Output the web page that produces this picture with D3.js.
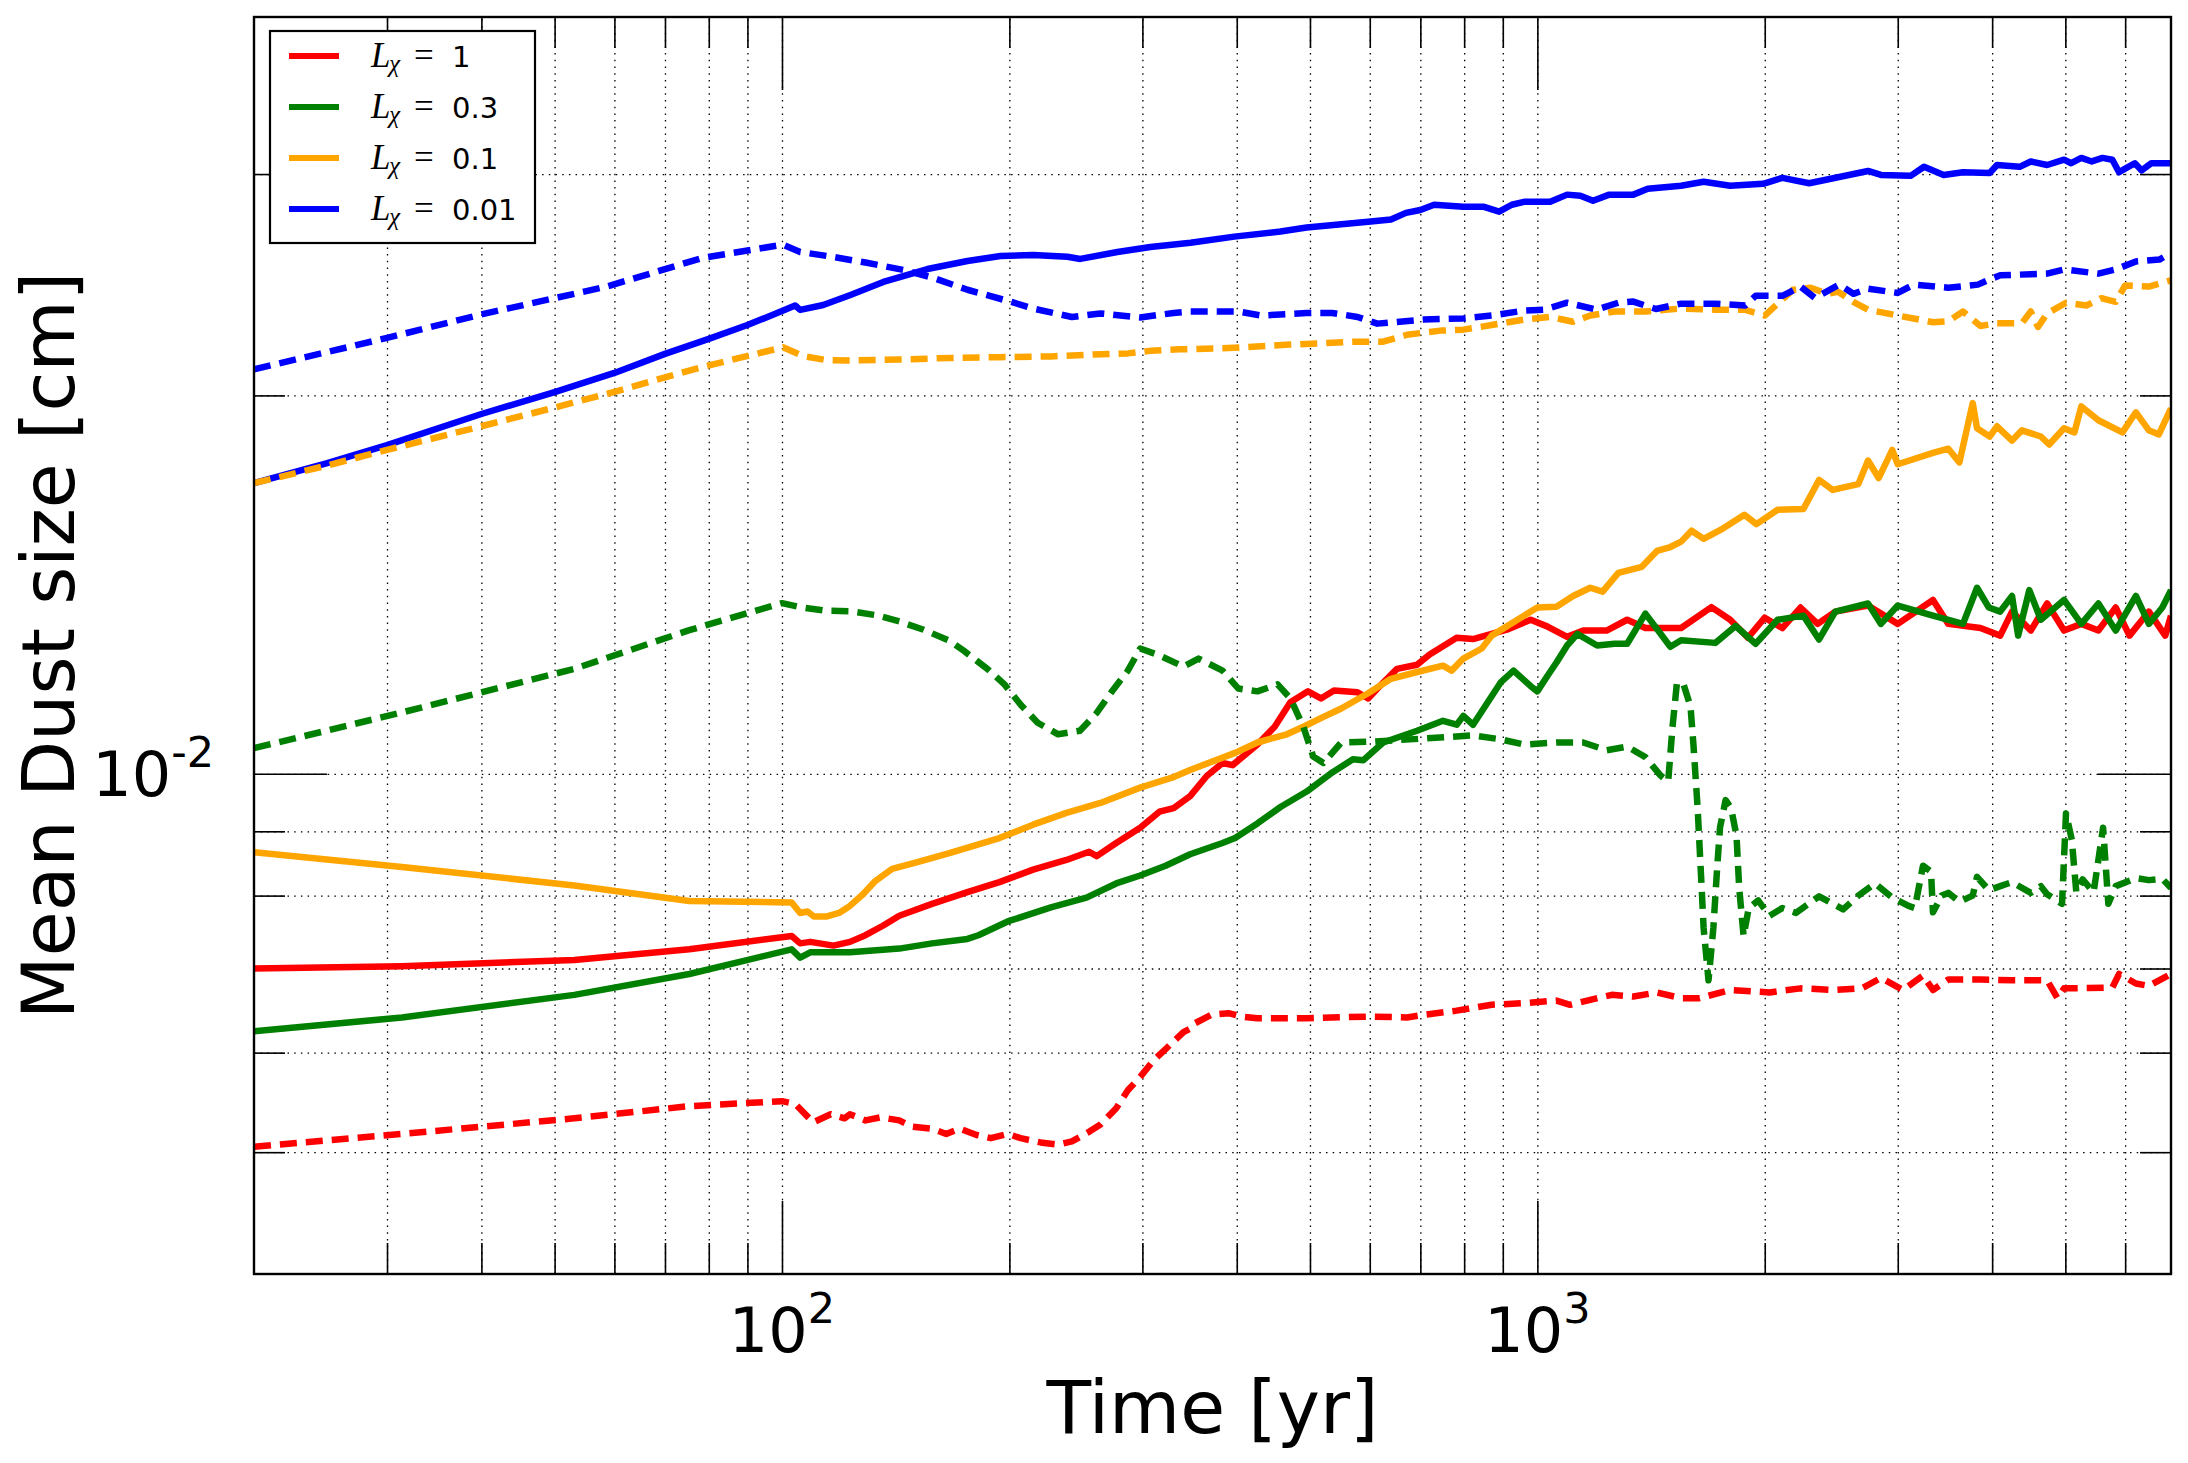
<!DOCTYPE html>
<meta charset="utf-8">

<head>
    <title>Mean dust size</title>
</head>

<style>
    body { margin: 0; background: #fff; }
    text { font-family: "DejaVu Sans", sans-serif; fill: #000; }
    .grid line { stroke: #000; stroke-width: 1.3; stroke-dasharray: 1.5, 5.2; }
    .grid path, .ticks path { display: none; }
    .ticks line { stroke: #000; stroke-width: 1.6; }
    .series { fill: none; stroke-width: 6.5; stroke-linejoin: round; }
    .dashed { stroke-dasharray: 17, 9; }
</style>

<body>
    <svg width="2188" height="1463"></svg>

    <script src="https://cdnjs.cloudflare.com/ajax/libs/d3/7.8.5/d3.min.js"></script>
    <script>
        var width = 2188, height = 1463
        // plot box (window.top is reserved, so no plain "top")
        var pLeft = 254, pRight = 2171, pTop = 17, pBottom = 1274

        // [time in yr, mean dust size in cm]
        var redSolid = [[20,0.00700],[31.4,0.00703],[53.1,0.00711],[75.4,0.00725],[103,0.00743],[105.7,0.00733],[109,0.00735],[117,0.00730],[123,0.00735],[129,0.00744],[136,0.00757],[143,0.00771],[158,0.00788],[176,0.00805],[194,0.00820],[215,0.00839],[238,0.00854],[255,0.00867],[261,0.00860],[277,0.00881],[298,0.00906],[316,0.00933],[330,0.00939],[347,0.00960],[365,0.00996],[383,0.01020],[395,0.01016],[426,0.01055],[449,0.01090],[471,0.01140],[497,0.01163],[517,0.01148],[538,0.01165],[578,0.01161],[597,0.01148],[620,0.01176],[652,0.01212],[693,0.01221],[720,0.01244],[750,0.01263],[782,0.01283],[822,0.01280],[911,0.01302],[980,0.01326],[1030,0.01310],[1095,0.01285],[1150,0.01300],[1235,0.01300],[1315,0.01326],[1390,0.01306],[1550,0.01306],[1700,0.01357],[1800,0.01326],[1900,0.01283],[2000,0.01331],[2110,0.01306],[2230,0.01356],[2350,0.01316],[2480,0.01346],[2740,0.01361],[3000,0.01316],[3340,0.01375],[3500,0.01316],[3860,0.01306],[4100,0.01288],[4250,0.01346],[4500,0.01300],[4730,0.01366],[4980,0.01300],[5250,0.01316],[5530,0.01300],[5830,0.01356],[6080,0.01288],[6450,0.01346],[6780,0.01288],[6900,0.01336]]

        var greenSolid = [[20,0.00624],[31.4,0.00640],[53.1,0.00667],[75.4,0.00693],[103,0.00725],[105.7,0.00714],[109,0.00721],[123,0.00721],[143,0.00726],[158,0.00733],[176,0.00739],[182,0.00744],[199,0.00763],[227,0.00783],[253,0.00797],[277,0.00818],[298,0.00830],[322,0.00845],[347,0.00863],[383,0.00881],[398,0.00889],[426,0.00913],[457,0.00941],[495,0.00968],[532,0.01000],[570,0.01027],[588,0.01025],[625,0.01059],[693,0.01082],[750,0.01102],[782,0.01094],[798,0.01112],[822,0.01094],[895,0.01183],[930,0.01208],[980,0.01174],[1000,0.01163],[1030,0.01195],[1060,0.01226],[1095,0.01265],[1130,0.01292],[1200,0.01265],[1265,0.01269],[1315,0.01269],[1390,0.01341],[1500,0.01262],[1550,0.01277],[1720,0.01271],[1830,0.01311],[1945,0.01269],[2080,0.01326],[2250,0.01336],[2360,0.01279],[2480,0.01346],[2740,0.01366],[2850,0.01316],[3000,0.01361],[3340,0.01336],[3660,0.01316],[3820,0.01406],[3960,0.01356],[4100,0.01346],[4250,0.01385],[4330,0.01288],[4480,0.01400],[4640,0.01326],[4980,0.01375],[5250,0.01316],[5530,0.01366],[5830,0.01300],[6200,0.01385],[6450,0.01316],[6720,0.01356],[6900,0.01400]]

        var orangeSolid = [[20,0.00866],[31.4,0.00843],[53.1,0.00815],[75.4,0.00792],[103,0.00790],[105.7,0.00775],[108.1,0.00777],[110.2,0.00770],[114.7,0.00770],[119,0.00775],[123,0.00785],[128,0.00802],[133,0.00822],[139.9,0.00840],[151.5,0.00851],[167,0.00865],[194,0.00889],[215,0.00911],[238,0.00931],[264,0.00948],[298,0.00975],[330,0.00994],[347,0.01007],[398,0.01039],[426,0.01059],[466,0.01075],[490,0.01090],[521,0.01110],[550,0.01127],[597,0.01159],[640,0.01190],[693,0.01205],[750,0.01219],[770,0.01208],[798,0.01235],[844,0.01258],[870,0.01288],[960,0.01336],[1000,0.01356],[1060,0.01358],[1115,0.01385],[1175,0.01406],[1220,0.01396],[1280,0.01445],[1375,0.01461],[1440,0.01504],[1500,0.01515],[1550,0.01530],[1600,0.01561],[1660,0.01538],[1760,0.01567],[1880,0.01607],[1950,0.01580],[2080,0.01622],[2250,0.01624],[2360,0.01713],[2460,0.01682],[2660,0.01700],[2740,0.01775],[2830,0.01719],[2950,0.01810],[3000,0.01763],[3340,0.01800],[3500,0.01814],[3620,0.01769],[3770,0.01972],[3820,0.01883],[3970,0.01855],[4060,0.01890],[4250,0.01841],[4380,0.01876],[4640,0.01855],[4760,0.01828],[4980,0.01883],[5140,0.01869],[5250,0.01960],[5530,0.01911],[5950,0.01869],[6200,0.01939],[6450,0.01876],[6650,0.01862],[6900,0.01953]]

        var blueSolid = [[20,0.01703],[25,0.01767],[30,0.01826],[40,0.01933],[50,0.02012],[60,0.02084],[70,0.02158],[80,0.02218],[90,0.02275],[100,0.02334],[104.1,0.02358],[105.7,0.02339],[113.4,0.02360],[123.2,0.02404],[136.2,0.02462],[155.8,0.02521],[176,0.02558],[194.6,0.02582],[215.2,0.02587],[238.7,0.02578],[248.3,0.02568],[278,0.02601],[307.4,0.02625],[347.4,0.02645],[397,0.02675],[457,0.02700],[495,0.02720],[597,0.02749],[640,0.02760],[670,0.02794],[700,0.02809],[730,0.02836],[798,0.02825],[850,0.02825],[890,0.02800],[925,0.02836],[960,0.02851],[1040,0.02851],[1095,0.02889],[1140,0.02883],[1185,0.02857],[1245,0.02889],[1340,0.02889],[1400,0.02920],[1550,0.02936],[1660,0.02958],[1800,0.02936],[1990,0.02947],[2110,0.02979],[2290,0.02950],[2510,0.02984],[2740,0.03017],[2850,0.02995],[3120,0.02990],[3250,0.03040],[3450,0.02995],[3660,0.03010],[3970,0.03006],[4060,0.03050],[4350,0.03040],[4500,0.03070],[4730,0.03050],[4980,0.03080],[5090,0.03060],[5250,0.03090],[5420,0.03070],[5600,0.03090],[5770,0.03080],[5890,0.03010],[6000,0.03030],[6180,0.03060],[6310,0.03020],[6500,0.03060],[6900,0.03060]]

        var redDashed = [[20,0.00505],[31.4,0.00517],[53.1,0.00532],[75.4,0.00544],[100,0.00549],[104.2,0.00546],[110,0.00528],[116,0.00536],[121,0.00532],[123,0.00536],[129,0.00530],[135,0.00533],[143,0.00530],[148.6,0.00524],[158,0.00522],[165,0.00517],[172,0.00522],[181,0.00516],[189,0.00513],[199,0.00517],[207,0.00513],[220,0.00509],[232,0.00507],[242,0.00510],[255,0.00519],[264,0.00526],[277,0.00542],[287,0.00560],[298,0.00574],[310,0.00591],[322,0.00604],[340,0.00623],[347,0.00627],[350,0.00632],[370,0.00643],[390,0.00645],[406,0.00641],[426,0.00639],[495,0.00639],[597,0.00641],[672,0.00640],[707,0.00643],[782,0.00648],[870,0.00655],[960,0.00657],[1060,0.00660],[1105,0.00655],[1175,0.00661],[1255,0.00667],[1340,0.00665],[1440,0.00670],[1550,0.00663],[1640,0.00663],[1800,0.00673],[2030,0.00670],[2230,0.00675],[2480,0.00673],[2690,0.00675],[2850,0.00688],[3050,0.00673],[3240,0.00691],[3340,0.00673],[3500,0.00686],[3860,0.00686],[4250,0.00685],[4730,0.00685],[4880,0.00663],[4980,0.00675],[5770,0.00676],[5890,0.00693],[6200,0.00681],[6450,0.00678],[6900,0.00693]]

        var greenDashed = [[20,0.01048],[31.4,0.01119],[53.1,0.01212],[75.4,0.01301],[100,0.01367],[105.7,0.01357],[114.3,0.01348],[123,0.01347],[133.5,0.01337],[143,0.01322],[154,0.01302],[167,0.01275],[174,0.01253],[187,0.01212],[197,0.01178],[207,0.01135],[218,0.01098],[232,0.01075],[248,0.01082],[261,0.01118],[274,0.01165],[287,0.01208],[298,0.01258],[314,0.01244],[340,0.01217],[356,0.01235],[383,0.01208],[402,0.01169],[426,0.01163],[453,0.01178],[471,0.01148],[490,0.01090],[505,0.01032],[521,0.01020],[550,0.01059],[608,0.01061],[713,0.01067],[822,0.01073],[895,0.01065],[960,0.01055],[1060,0.01059],[1150,0.01059],[1235,0.01044],[1315,0.01051],[1390,0.01031],[1455,0.00997],[1490,0.00986],[1510,0.01090],[1530,0.01180],[1560,0.01180],[1595,0.01131],[1610,0.01051],[1630,0.00939],[1645,0.00842],[1660,0.00754],[1685,0.00685],[1710,0.00754],[1730,0.00842],[1745,0.00906],[1775,0.00953],[1805,0.00939],[1835,0.00893],[1850,0.00812],[1875,0.00743],[1905,0.00782],[1960,0.00793],[2030,0.00771],[2110,0.00782],[2200,0.00775],[2360,0.00799],[2540,0.00780],[2660,0.00800],[2800,0.00818],[2950,0.00797],[3100,0.00785],[3160,0.00782],[3240,0.00845],[3320,0.00836],[3340,0.00776],[3430,0.00800],[3500,0.00804],[3620,0.00791],[3770,0.00800],[3820,0.00828],[3960,0.00808],[4100,0.00814],[4250,0.00820],[4500,0.00804],[4640,0.00814],[4730,0.00802],[4950,0.00788],[5010,0.00930],[5100,0.00886],[5170,0.00805],[5270,0.00824],[5450,0.00805],[5530,0.00854],[5610,0.00906],[5700,0.00788],[5830,0.00814],[6200,0.00826],[6450,0.00823],[6720,0.00825],[6900,0.00811]]

        var orangeDashed = [[20,0.01703],[25,0.01759],[30,0.01810],[40,0.01890],[50,0.01956],[60,0.02013],[70,0.02067],[79,0.02109],[100.3,0.02184],[106.8,0.02149],[114.3,0.02134],[123,0.02132],[143,0.02136],[167,0.02142],[194,0.02145],[227,0.02148],[264,0.02157],[287,0.02160],[307,0.02170],[336,0.02176],[383,0.02180],[470,0.02195],[578,0.02207],[625,0.02207],[672,0.02235],[745,0.02252],[798,0.02256],[870,0.02275],[960,0.02298],[1040,0.02309],[1115,0.02289],[1175,0.02315],[1265,0.02332],[1390,0.02332],[1550,0.02345],[1720,0.02340],[1880,0.02340],[2000,0.02315],[2180,0.02427],[2300,0.02436],[2420,0.02409],[2500,0.02418],[2620,0.02374],[2740,0.02340],[3000,0.02315],[3340,0.02287],[3500,0.02291],[3660,0.02332],[3860,0.02271],[4060,0.02283],[4380,0.02283],[4500,0.02332],[4600,0.02267],[4730,0.02324],[5010,0.02370],[5330,0.02358],[5580,0.02390],[5830,0.02374],[6000,0.02446],[6450,0.02441],[6900,0.02469]]

        var blueDashed = [[20,0.02098],[30,0.02222],[40,0.02320],[58.6,0.02441],[78.5,0.02573],[100.3,0.02636],[105.7,0.02601],[116.7,0.02578],[129,0.02551],[146,0.02514],[158,0.02482],[176,0.02427],[199,0.02378],[215,0.02345],[242,0.02309],[264,0.02324],[298,0.02307],[330,0.02326],[347,0.02332],[402,0.02332],[431,0.02315],[495,0.02326],[535,0.02326],[578,0.02309],[614,0.02281],[707,0.02298],[798,0.02303],[870,0.02315],[960,0.02336],[1020,0.02340],[1095,0.02370],[1198,0.02340],[1280,0.02370],[1340,0.02375],[1435,0.02343],[1550,0.02366],[1720,0.02366],[1885,0.02358],[1945,0.02400],[2110,0.02400],[2230,0.02441],[2330,0.02391],[2510,0.02450],[2620,0.02409],[2740,0.02432],[3000,0.02413],[3150,0.02450],[3500,0.02436],[3830,0.02450],[3970,0.02473],[4100,0.02492],[4500,0.02497],[4730,0.02500],[4980,0.02519],[5530,0.02500],[5830,0.02519],[6200,0.02556],[6660,0.02565],[6900,0.02596]]

        var legendValues = ['1', '0.3', '0.1', '0.01']
        var legendColors = ['red', 'green', 'orange', 'blue']

        var xMajor = [100, 1000]
        var xMinor = [30, 40, 50, 60, 70, 80, 90, 200, 300, 400, 500, 600, 700, 800, 900, 2000, 3000, 4000, 5000, 6000]
        var yMajor = [0.01]
        var yMinor = [0.005, 0.006, 0.007, 0.008, 0.009, 0.02, 0.03]
        var xTickExp = ['2', '3']
        var yTickExp = ['-2']

        // solids first, dashed on top
        var series = [
            { data: redSolid, color: 'red', dashed: false },
            { data: greenSolid, color: 'green', dashed: false },
            { data: orangeSolid, color: 'orange', dashed: false },
            { data: blueSolid, color: 'blue', dashed: false },
            { data: redDashed, color: 'red', dashed: true },
            { data: greenDashed, color: 'green', dashed: true },
            { data: orangeDashed, color: 'orange', dashed: true },
            { data: blueDashed, color: 'blue', dashed: true }
        ]

        var x = d3.scaleLog().domain([20, 6900]).range([pLeft, pRight])
        var y = d3.scaleLog().domain([0.004, 0.04]).range([pBottom, pTop])

        var svg = d3.select('svg')
        svg.append('rect').attr('width', width).attr('height', height).attr('fill', '#fff')

        svg.append('clipPath').attr('id', 'plotclip')
            .append('rect')
            .attr('x', pLeft).attr('y', pTop)
            .attr('width', pRight - pLeft).attr('height', pBottom - pTop)

        // dotted grid at every major and minor tick
        svg.append('g').attr('class', 'grid')
            .attr('transform', 'translate(0,' + pBottom + ')')
            .call(d3.axisBottom(x).tickValues(xMinor.concat(xMajor)).tickSize(-(pBottom - pTop)).tickFormat(''))
        svg.append('g').attr('class', 'grid')
            .attr('transform', 'translate(' + pLeft + ',0)')
            .call(d3.axisLeft(y).tickValues(yMinor.concat(yMajor)).tickSize(-(pRight - pLeft)).tickFormat(''))

        // inward ticks on all four sides
        function ticks(axis, tx, ty, vals, len) {
            svg.append('g').attr('class', 'ticks')
                .attr('transform', 'translate(' + tx + ',' + ty + ')')
                .call(axis.tickValues(vals).tickSize(-len).tickFormat(''))
        }
        ticks(d3.axisBottom(x), 0, pBottom, xMajor, 73)
        ticks(d3.axisBottom(x), 0, pBottom, xMinor, 31)
        ticks(d3.axisTop(x), 0, pTop, xMajor, 73)
        ticks(d3.axisTop(x), 0, pTop, xMinor, 31)
        ticks(d3.axisLeft(y), pLeft, 0, yMajor, 73)
        ticks(d3.axisLeft(y), pLeft, 0, yMinor, 31)
        ticks(d3.axisRight(y), pRight, 0, yMajor, 73)
        ticks(d3.axisRight(y), pRight, 0, yMinor, 31)

        var line = d3.line()
            .x(function (d) { return x(d[0]) })
            .y(function (d) { return y(d[1]) })

        svg.append('g').attr('clip-path', 'url(#plotclip)')
            .selectAll('path')
            .data(series)
            .enter()
            .append('path')
            .attr('class', function (d) { return d.dashed ? 'series dashed' : 'series' })
            .attr('stroke', function (d) { return d.color })
            .attr('d', function (d) { return line(d.data) })

        // frame
        svg.append('rect')
            .attr('x', pLeft).attr('y', pTop)
            .attr('width', pRight - pLeft).attr('height', pBottom - pTop)
            .attr('fill', 'none').attr('stroke', '#000').attr('stroke-width', 2.4)

        // tick labels 10^n
        var xl = svg.append('g').selectAll('text')
            .data(xMajor)
            .enter()
            .append('text')
            .attr('x', function (d) { return x(d) })
            .attr('y', 1352)
            .attr('text-anchor', 'middle')
            .style('font-size', '62px')
        xl.append('tspan').text('10')
        xl.append('tspan').attr('dy', -29).style('font-size', '43px')
            .text(function (d, i) { return xTickExp[i] })

        var yl = svg.append('g').selectAll('text')
            .data(yMajor)
            .enter()
            .append('text')
            .attr('x', 214)
            .attr('y', function (d) { return y(d) + 22 })
            .attr('text-anchor', 'end')
            .style('font-size', '62px')
        yl.append('tspan').text('10')
        yl.append('tspan').attr('dy', -29).style('font-size', '43px')
            .text(function (d, i) { return yTickExp[i] })

        svg.append('text')
            .attr('x', (pLeft + pRight) / 2).attr('y', 1433)
            .attr('text-anchor', 'middle')
            .style('font-size', '73px')
            .text('Time [yr]')

        svg.append('text')
            .attr('transform', 'translate(74,' + (pTop + pBottom) / 2 + ') rotate(-90)')
            .attr('text-anchor', 'middle')
            .style('font-size', '73px')
            .text('Mean Dust size [cm]')

        // legend
        var lg = svg.append('g')
        lg.append('rect')
            .attr('x', 270).attr('y', 31).attr('width', 265).attr('height', 212)
            .attr('fill', '#fff').attr('stroke', '#000').attr('stroke-width', 2.2)

        var rows = lg.selectAll('g.row')
            .data(legendValues)
            .enter()
            .append('g')
            .attr('class', 'row')
            .attr('transform', function (d, i) { return 'translate(0,' + (56 + i * 51) + ')' })

        rows.append('line')
            .attr('x1', 289).attr('x2', 339)
            .attr('stroke', function (d, i) { return legendColors[i] })
            .attr('stroke-width', 6)
        rows.append('text').attr('x', 371).attr('y', 11)
            .style('font-family', '"Liberation Serif", serif').style('font-style', 'italic').style('font-size', '35px')
            .text('L')
        rows.append('text').attr('x', 389).attr('y', 16)
            .style('font-family', '"Liberation Serif", serif').style('font-style', 'italic').style('font-size', '25px')
            .text('χ')
        rows.append('text').attr('x', 414).attr('y', 11)
            .style('font-family', '"Liberation Serif", serif').style('font-size', '35px')
            .text('=')
        rows.append('text').attr('x', 452).attr('y', 11)
            .style('font-size', '29px')
            .text(function (d) { return d })
    </script>
</body>

</html>
